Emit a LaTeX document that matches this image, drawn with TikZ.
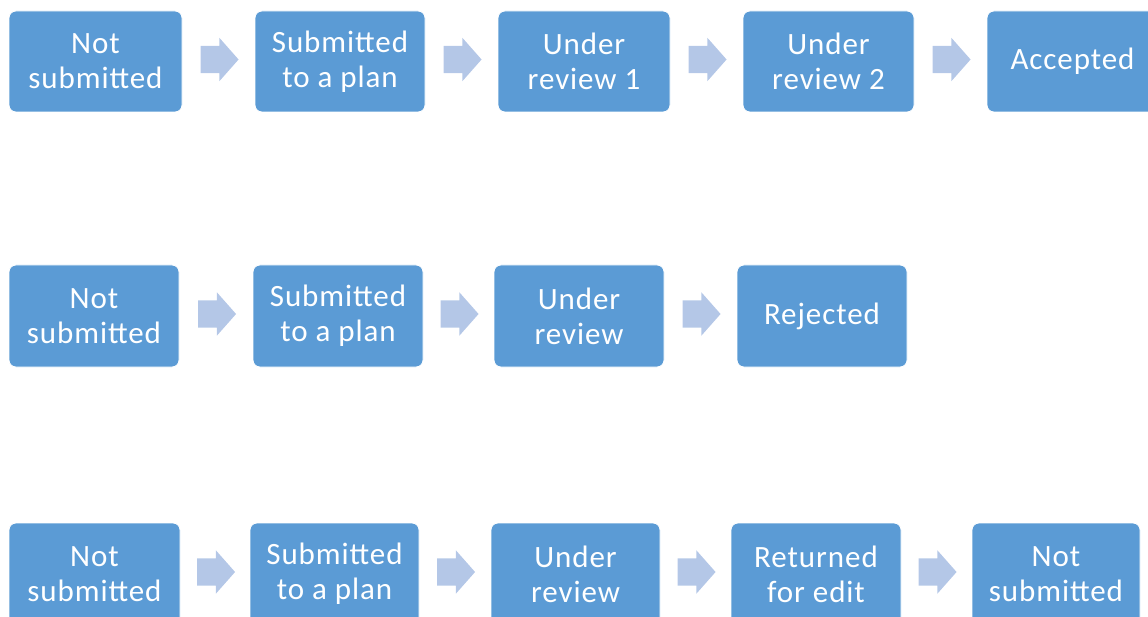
\documentclass[tikz,border=0pt]{standalone}
\usepackage{fontspec}
\setmainfont[LetterSpace=3]{Carlito}
\usetikzlibrary{shapes.arrows,calc}
\definecolor{boxblue}{HTML}{5B9BD5}
\definecolor{arrblue}{HTML}{B4C7E7}
\tikzset{
  stage/.style={rectangle, rounded corners=7pt, fill=boxblue, draw=white, line width=0.8pt,
    text=white, align=center, font=\fontsize{31}{35}\selectfont, inner sep=0pt},
  flow/.style={single arrow, fill=arrblue, draw=none, inner xsep=0pt, inner ysep=13.5pt,
    minimum height=38pt, single arrow head extend=8pt, single arrow tip angle=97, yshift=2pt, xshift=-5pt},
}
\begin{document}
\begin{tikzpicture}[x=1pt,y=-1pt]
\useasboundingbox (0,0) rectangle (1148,617);
\clip (0,0) rectangle (1148,617);
% row 1
\node[stage, minimum width=173pt, minimum height=101pt] (r1a) at (95.5,61.5) {Not\\submitted};
\node[stage, minimum width=170pt, minimum height=101pt] (r1b) at (340,61.5) {Submitted\\to a plan};
\node[stage, minimum width=172pt, minimum height=101pt] (r1c) at (584,61.5) {Under\\review 1};
\node[stage, minimum width=171pt, minimum height=101pt] (r1d) at (828.5,61.5) {Under\\review 2};
\node[stage, minimum width=171pt, minimum height=101pt] (r1e) at (1072.5,61.5) {Accepted};
% row 2
\node[stage, minimum width=170pt, minimum height=102pt] (r2a) at (94,316) {Not\\submitted};
\node[stage, minimum width=170pt, minimum height=102pt] (r2b) at (338,316) {Submitted\\to a plan};
\node[stage, minimum width=170pt, minimum height=102pt] (r2c) at (579,316) {Under\\review};
\node[stage, minimum width=170pt, minimum height=102pt] (r2d) at (822,316) {Rejected};
% row 3
\node[stage, minimum width=171pt, minimum height=102pt] (r3a) at (94.5,574) {Not\\submitted};
\node[stage, minimum width=169pt, minimum height=102pt] (r3b) at (334.5,574) {Submitted\\to a plan};
\node[stage, minimum width=169pt, minimum height=102pt] (r3c) at (575.5,574) {Under\\review};
\node[stage, minimum width=170pt, minimum height=102pt] (r3d) at (816,574) {Returned\\for edit};
\node[stage, minimum width=168pt, minimum height=102pt] (r3e) at (1056,574) {Not\\submitted};
% arrows
\foreach \a/\b in {r1a/r1b,r1b/r1c,r1c/r1d,r1d/r1e,r2a/r2b,r2b/r2c,r2c/r2d,r3a/r3b,r3b/r3c,r3c/r3d,r3d/r3e}
  \node[flow] (arr-\a) at ($(\a.east)!0.5!(\b.west)$) {};
\end{tikzpicture}
\end{document}
